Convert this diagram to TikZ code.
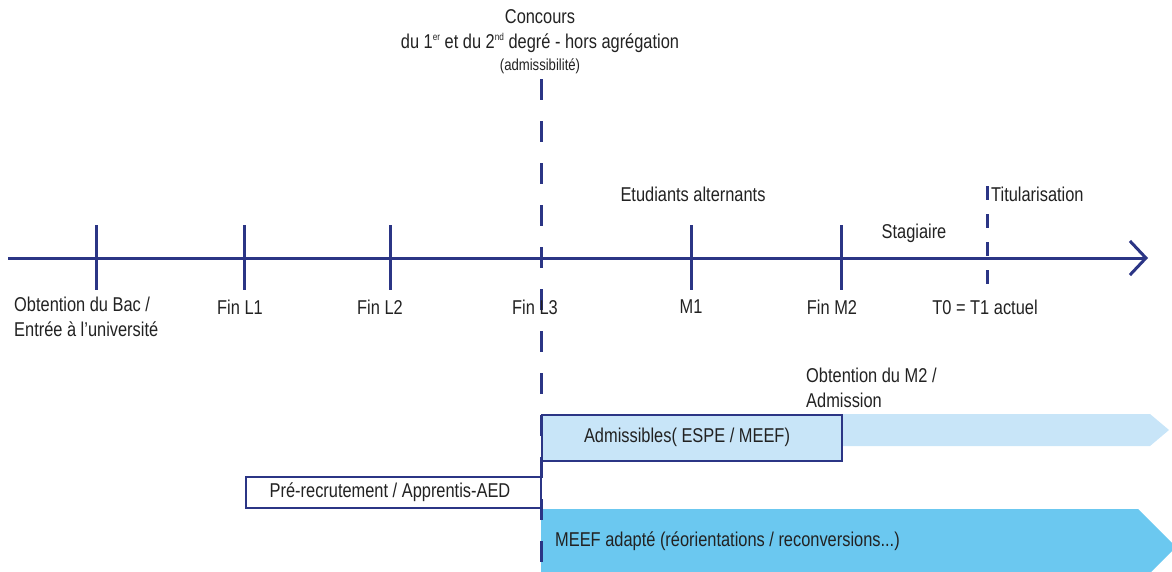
\documentclass[tikz,border=0pt]{standalone}
\usepackage{fontspec}
\setmainfont{Liberation Sans}[FakeStretch=0.82]
\usetikzlibrary{arrows.meta}
\definecolor{navy}{HTML}{2B3585}
\definecolor{lightblue}{HTML}{C8E5F8}
\definecolor{midblue}{HTML}{6BC8F0}
\definecolor{txt}{HTML}{222222}
\newcommand{\supr}[1]{\raisebox{0.75ex}{\fontsize{10}{10}\selectfont #1}}
\begin{document}
\begin{tikzpicture}[x=1pt,y=-1pt,
  lbl/.style={font=\fontsize{20}{25}\selectfont, inner sep=0pt, text=txt},
  small/.style={font=\fontsize{16}{18}\selectfont, inner sep=0pt, text=txt},
  tickline/.style={draw=navy, line width=3pt},
  bigdash/.style={draw=navy, line width=3pt, dash pattern=on 21pt off 21pt},
  smalldash/.style={draw=navy, line width=3pt, dash pattern=on 14pt off 14pt},
  boxstyle/.style={draw=navy, line width=1.6pt},
]
\useasboundingbox (0,0) rectangle (1172,571);
\clip (0,0) rectangle (1172,571);

% coloured arrows
\path[fill=lightblue] (541,414) -- (1150,414) -- (1169,430) -- (1150,446) -- (541,446) -- cycle;
\path[fill=midblue] (541,509) -- (1138,509) -- (1176,547) -- (1138,585) -- (541,585) -- cycle;

% boxes
\node[boxstyle, fill=lightblue, minimum width=300pt, minimum height=46pt, inner sep=0pt, anchor=north west] (adm) at (541,414) {};
\node[lbl] (admt) at (687,437) {Admissibles( ESPE / MEEF)};
\node[boxstyle, fill=white, minimum width=295pt, minimum height=31pt, inner sep=0pt, anchor=north west] (pre) at (245,476) {};
\node[lbl] (pret) at (390,492) {Pré-recrutement / Apprentis-AED};
\node[lbl, anchor=west] (meef) at (555,541) {MEEF adapté (réorientations / reconversions...)};

% axis
\coordinate (a0) at (8,258);
\coordinate (a1) at (1148,258);
\draw[navy, line width=3pt, -{Straight Barb[length=16pt,width=34pt,line width=3pt]}] (a0) -- (a1);

% ticks
\foreach \n/\x in {bac/96, l1/244, l2/390, m1/691, m2/841}{
  \coordinate (\n t) at (\x,225);
  \coordinate (\n b) at (\x,290);
  \draw[tickline] (\n t) -- (\n b);
}

% dashed lines
\coordinate (c0) at (541,79);
\coordinate (c1) at (541,571);
\draw[bigdash] (c0) -- (c1);
\coordinate (t0) at (987,186);
\coordinate (t1) at (987,290);
\draw[smalldash] (t0) -- (t1);

% labels under axis
\node[lbl, anchor=north west, align=left] (bac) at (14,297) {Obtention du Bac /\\Entrée à l{\char39}université};
\node[lbl] (fl1) at (240,307) {Fin L1};
\node[lbl] (fl2) at (380,307) {Fin L2};
\node[lbl] (fl3) at (535,307) {Fin L3};
\node[lbl] (m1) at (691,307) {M1};
\node[lbl] (fm2) at (832,307) {Fin M2};
\node[lbl] (t0l) at (985,307) {T0 = T1 actuel};

% labels above axis
\node[lbl] (etu) at (693,194) {Etudiants alternants};
\node[lbl] (sta) at (914,233) {Stagiaire};
\node[lbl, anchor=west] (tit) at (991,194) {Titularisation};

% top title
\node[lbl] (conc) at (540,17) {Concours};
\node[lbl] (deg) at (540,43) {du 1\supr{er} et du 2\supr{nd} degré - hors agrégation};
\node[small] (admi) at (540,66) {(admissibilité)};

\node[lbl, anchor=north west, align=left] (obm2) at (806,368) {Obtention du M2 /\\Admission};
\end{tikzpicture}
\end{document}
